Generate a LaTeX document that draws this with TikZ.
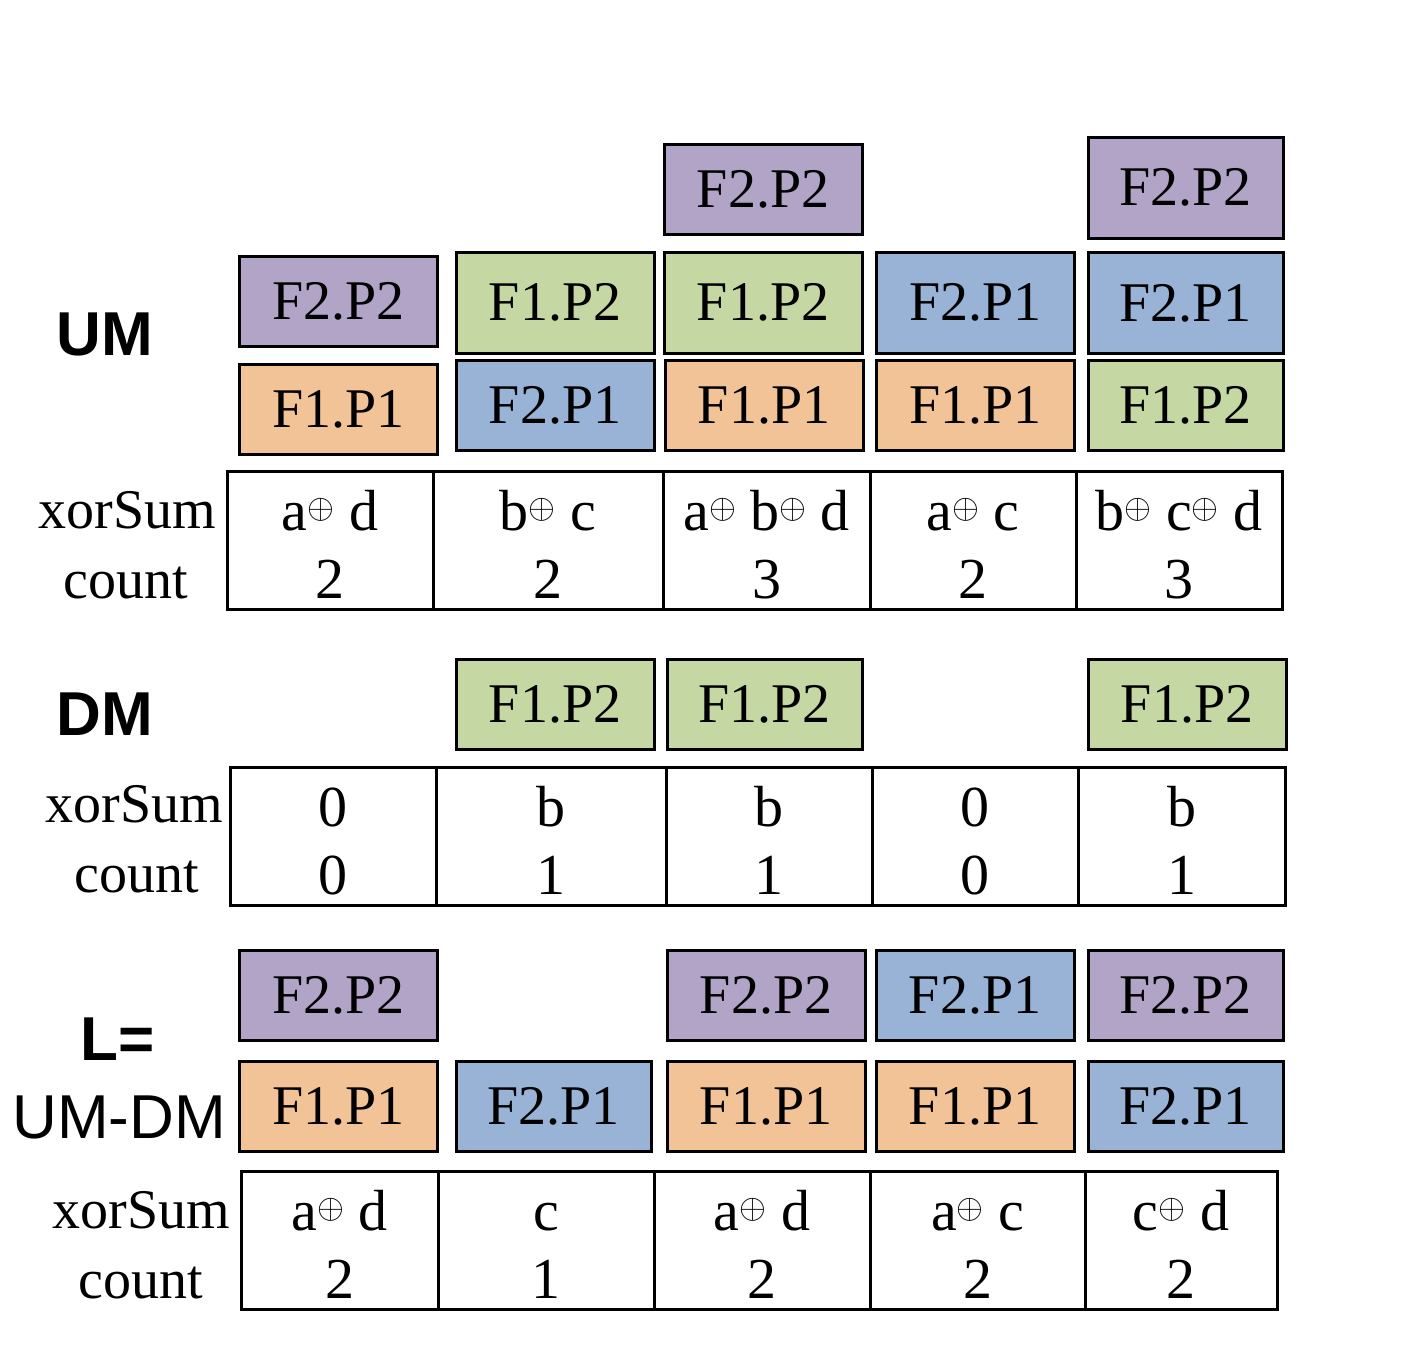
\documentclass[tikz,border=0pt]{standalone}
\usepackage{fontspec}
\setmainfont{Liberation Serif}
\setsansfont{Liberation Sans}
\usepackage{tikz}
\usetikzlibrary{positioning}

\definecolor{cpurple}{HTML}{B2A4C7}
\definecolor{cgreen}{HTML}{C5D7A2}
\definecolor{cblue}{HTML}{98B3D6}
\definecolor{corange}{HTML}{F2C397}

\newcommand{\xor}{\raisebox{6pt}{\fontsize{16}{16}\selectfont$\oplus$}}
\newcommand{\cellt}[2]{\rule{0pt}{26pt}#1\\#2\rule[-2pt]{0pt}{2pt}}

\begin{document}
\begin{tikzpicture}[x=0.5pt, y=-0.5pt,
		box/.style={draw, line width=1.5pt, minimum width=99pt, minimum height=45pt, inner sep=0pt, font=\fontsize{28}{30}\selectfont},
		tall/.style={minimum height=50.5pt},
		pp/.style={box, fill=cpurple},
		gp/.style={box, fill=cgreen},
		bp/.style={box, fill=cblue},
		op/.style={box, fill=corange},
		cell/.style={draw, line width=1.5pt, minimum height=69pt, inner sep=0pt, align=center, font=\fontsize{29}{34}\selectfont},
		rowname/.style={anchor=base, font=\fontsize{28}{30}\selectfont},
		mname/.style={anchor=base, font=\sffamily\bfseries\fontsize{31}{33}\selectfont}]
		\useasboundingbox (0,0) rectangle (1416,1356);
		
		% UM
		\node[mname] (um) at (104.5,355) {UM};
		\node[pp] (um3a) at (763,189.5) {F2.P2};
		\node[pp, tall, minimum width=97.5pt] (um5a) at (1185.5,187.5) {F2.P2};
		\node[pp] (um1b) at (338.5,301) {F2.P2};
		\node[gp, tall] (um2b) at (555,302.5) {F1.P2};
		\node[gp, tall] (um3b) at (763,302.5) {F1.P2};
		\node[bp, tall] (um4b) at (975.5,302.5) {F2.P1};
		\node[bp, tall, minimum width=97.5pt] (um5b) at (1185.5,303) {F2.P1};
		\node[op] (um1c) at (338.5,409) {F1.P1};
		\node[bp] (um2c) at (555,405) {F2.P1};
		\node[op] (um3c) at (764,405) {F1.P1};
		\node[op] (um4c) at (975.5,405) {F1.P1};
		\node[gp, minimum width=97.5pt] (um5c) at (1185.5,405) {F1.P2};
		
		\node[rowname] (umx) at (127.5,528) {xorSum};
		\node[rowname] (umc) at (126,598) {count};
		\node[cell, minimum width=103pt] (umt1) at (330,540) {\cellt{a\xor{} d}{2}};
		\node[cell, minimum width=115pt] (umt2) at (548,540) {\cellt{b\xor{} c}{2}};
		\node[cell, minimum width=103.5pt] (umt3) at (766.5,540) {\cellt{a\xor{} b\xor{} d}{3}};
		\node[cell, minimum width=103pt] (umt4) at (973,540) {\cellt{a\xor{} c}{2}};
		\node[cell, minimum width=103pt] (umt5) at (1179,540) {\cellt{b\xor{} c\xor{} d}{3}};
		
		% DM
		\node[mname] (dm) at (104.5,735) {DM};
		\node[gp] (dm2) at (555,704) {F1.P2};
		\node[gp, minimum width=97.5pt] (dm3) at (764.5,704) {F1.P2};
		\node[gp] (dm5) at (1187,704) {F1.P2};
		
		\node[rowname] (dmx) at (134.5,822) {xorSum};
		\node[rowname] (dmc) at (136.5,892) {count};
		\node[cell, minimum width=103pt] (dmt1) at (333,836) {\cellt{0}{0}};
		\node[cell, minimum width=115pt] (dmt2) at (551,836) {\cellt{b}{1}};
		\node[cell, minimum width=103pt] (dmt3) at (769,836) {\cellt{b}{1}};
		\node[cell, minimum width=103pt] (dmt4) at (975,836) {\cellt{0}{0}};
		\node[cell, minimum width=103.5pt] (dmt5) at (1181.5,836) {\cellt{b}{1}};
		
		% L = UM-DM
		\node[mname] (ll) at (117.5,1060) {L=};
		\node[mname, font=\sffamily\fontsize{31}{33}\selectfont] (lum) at (119,1138) {UM-DM};
		\node[pp] (l1a) at (338.5,995) {F2.P2};
		\node[pp] (l3a) at (766,995) {F2.P2};
		\node[bp] (l4a) at (975,995) {F2.P1};
		\node[pp, minimum width=97.5pt] (l5a) at (1185.5,995) {F2.P2};
		\node[op] (l1b) at (338.5,1106) {F1.P1};
		\node[bp, minimum width=97.5pt] (l2b) at (553.5,1106) {F2.P1};
		\node[op] (l3b) at (766,1106) {F1.P1};
		\node[op] (l4b) at (975,1106) {F1.P1};
		\node[bp, minimum width=97.5pt] (l5b) at (1185.5,1106) {F2.P1};
		
		\node[rowname] (lx) at (141.5,1228) {xorSum};
		\node[rowname] (lc) at (140.5,1298) {count};
		\node[cell, minimum width=98.5pt] (lt1) at (339.5,1240) {\cellt{a\xor{} d}{2}};
		\node[cell, minimum width=108pt] (lt2) at (546,1240) {\cellt{c}{1}};
		\node[cell, minimum width=108pt] (lt3) at (762,1240) {\cellt{a\xor{} d}{2}};
		\node[cell, minimum width=107.5pt] (lt4) at (977.5,1240) {\cellt{a\xor{} c}{2}};
		\node[cell, minimum width=96pt] (lt5) at (1181,1240) {\cellt{c\xor{} d}{2}};
	\end{tikzpicture}
\end{document}
